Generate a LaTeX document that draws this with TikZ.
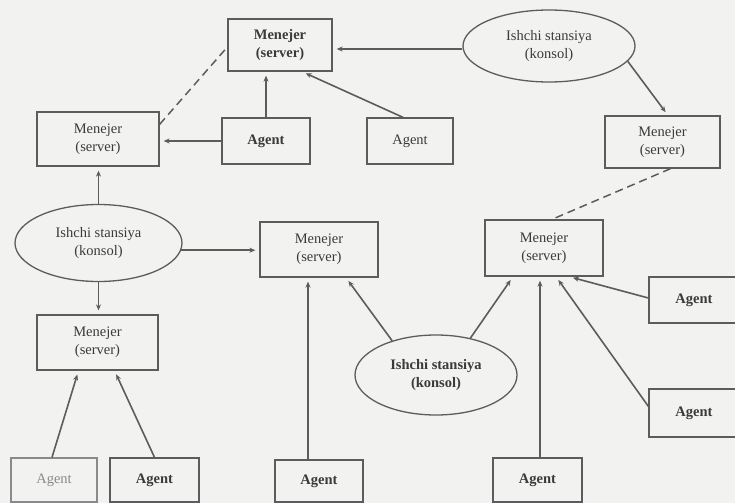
\documentclass[tikz,border=0pt]{standalone}
\usepackage{fontspec}
\setmainfont{Liberation Serif}
\usetikzlibrary{shapes.geometric,arrows.meta}
\definecolor{bgc}{HTML}{F2F2F0}
\definecolor{linec}{HTML}{5C5C5C}
\definecolor{textc}{HTML}{3A3A3A}
\definecolor{lightc}{HTML}{8A8A8A}
\begin{document}
\begin{tikzpicture}[x=1pt,y=-1pt,
  box/.style={draw=linec, line width=1.3pt, inner sep=0pt, align=center, text=textc,
    font=\fontsize{14.5}{18}\selectfont},
  boldbox/.style={box, font=\fontsize{14.5}{18}\selectfont\bfseries},
  ell/.style={box, ellipse},
  conn/.style={draw=linec, line width=1.6pt, -{Stealth[length=6pt,width=5pt]}, shorten >=4pt},
  dashconn/.style={draw=linec, line width=1.5pt, dash pattern=on 8pt off 5pt}]
\useasboundingbox (0,0) rectangle (735,503);
\fill[bgc] (0,0) rectangle (735,503);
\clip (0,0) rectangle (735,503);

\node[boldbox, minimum width=104pt, minimum height=52pt] (mTop) at (280,45) {Menejer\\(server)};
\node[box, minimum width=122pt, minimum height=54pt] (m2) at (98,139) {Menejer\\(server)};
\node[boldbox, minimum width=88pt, minimum height=46pt] (a1) at (266,141) {Agent};
\node[box, minimum width=86pt, minimum height=46pt] (a2) at (410,141) {Agent};
\node[ell, minimum width=172pt, minimum height=72pt] (e1) at (549,46) {Ishchi stansiya\\(konsol)};
\node[box, minimum width=115pt, minimum height=52pt] (m3) at (662.5,142) {Menejer\\(server)};
\node[ell, minimum width=167pt, minimum height=77pt] (e2) at (98.5,243) {Ishchi stansiya\\(konsol)};
\node[box, minimum width=118pt, minimum height=55pt] (m4) at (319,249.5) {Menejer\\(server)};
\node[box, minimum width=118pt, minimum height=56pt] (m5) at (544,248) {Menejer\\(server)};
\node[box, minimum width=121pt, minimum height=55pt] (m6) at (97.5,342.5) {Menejer\\(server)};
\node[ell, font=\fontsize{14.5}{18}\selectfont\bfseries, minimum width=162pt, minimum height=80pt] (e3) at (436,375) {Ishchi stansiya\\(konsol)};
\node[boldbox, minimum width=90pt, minimum height=46pt] (aR1) at (694,300) {Agent};
\node[boldbox, minimum width=90pt, minimum height=48pt] (aR2) at (694,413) {Agent};
\node[box, draw=lightc, text=lightc, minimum width=86pt, minimum height=44pt] (bl1) at (54,480) {Agent};
\node[boldbox, minimum width=89pt, minimum height=44pt] (bl2) at (154.5,480) {Agent};
\node[boldbox, minimum width=88pt, minimum height=42pt] (bm) at (319,481) {Agent};
\node[boldbox, minimum width=89pt, minimum height=44pt] (br) at (537.5,480) {Agent};

\draw[conn] ([yshift=-3]e1.west) -- ([yshift=-3]e1.west -| mTop.east);
\draw[conn] ([xshift=-7]a2.north) -- ([xshift=22]mTop.south);
\draw[conn] (a1.north) -- (a1.north |- mTop.south);
\draw[conn] (a1.west) -- (a1.west -| m2.east);
\draw[dashconn] ([yshift=-13]m2.north east) -- ([yshift=-2]mTop.west);
\draw[conn] (e1.-11) -- ([xshift=5.5]m3.north);
\draw[dashconn] ([xshift=8]m3.south) -- ([xshift=8]m5.north);
\draw[conn] (e2.north) -- (e2.north |- m2.south);
\draw[conn] (e2.south) -- (e2.south |- m6.north);
\draw[conn] (e2.-5.6) -- (e2.-5.6 -| m4.west);
\draw[conn] ([xshift=-2]bl1.north) -- ([xshift=-19]m6.south);
\draw[conn] (bl2.north) -- ([xshift=17]m6.south);
\draw[conn] ([xshift=-11]bm.north) -- ([xshift=-11]bm.north |- m4.south);
\draw[conn] (e3.142) -- ([xshift=27]m4.south);
\draw[conn] (e3.47) -- ([xshift=-31]m5.south);
\draw[conn] ([xshift=2.5]br.north) -- ([xshift=2.5]br.north |- m5.south);
\draw[conn] ([yshift=2]aR1.west) -- ([xshift=25]m5.south);
\draw[conn] ([yshift=-18]aR2.north west) -- ([xshift=12]m5.south);
\end{tikzpicture}
\end{document}
